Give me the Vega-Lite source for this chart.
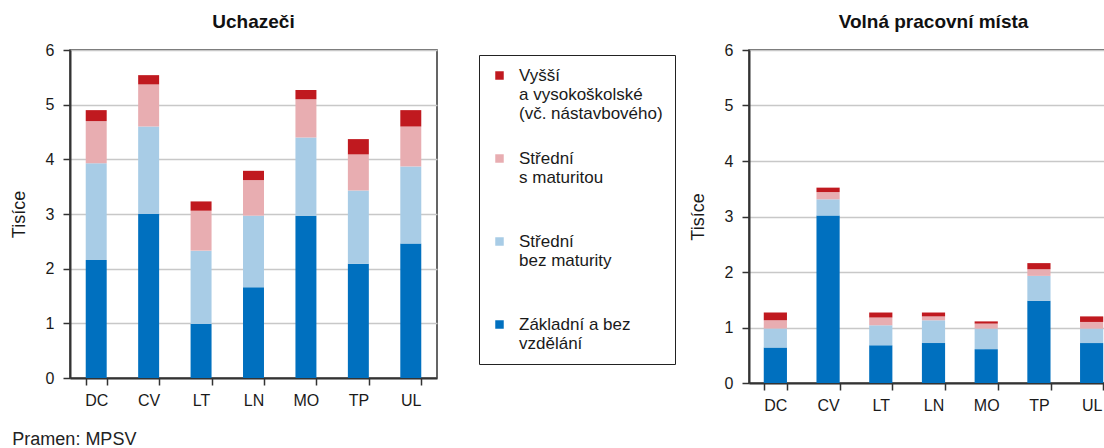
{
  "$schema": "https://vega.github.io/schema/vega-lite/v6.json",
  "padding": {"left": 9, "top": 12, "right": 0, "bottom": 4},
  "background": "white",
  "datasets": {
    "d": [
      {"graf": "Uchazeči", "okres": "DC", "vzdelani": "Základní a bez vzdělání", "poradi": 1, "tisice": 2.16},
      {"graf": "Uchazeči", "okres": "DC", "vzdelani": "Střední bez maturity", "poradi": 2, "tisice": 1.77},
      {"graf": "Uchazeči", "okres": "DC", "vzdelani": "Střední s maturitou", "poradi": 3, "tisice": 0.77},
      {"graf": "Uchazeči", "okres": "DC", "vzdelani": "Vyšší a vysokoškolské (vč. nástavbového)", "poradi": 4, "tisice": 0.20},
      {"graf": "Uchazeči", "okres": "CV", "vzdelani": "Základní a bez vzdělání", "poradi": 1, "tisice": 3.00},
      {"graf": "Uchazeči", "okres": "CV", "vzdelani": "Střední bez maturity", "poradi": 2, "tisice": 1.60},
      {"graf": "Uchazeči", "okres": "CV", "vzdelani": "Střední s maturitou", "poradi": 3, "tisice": 0.77},
      {"graf": "Uchazeči", "okres": "CV", "vzdelani": "Vyšší a vysokoškolské (vč. nástavbového)", "poradi": 4, "tisice": 0.17},
      {"graf": "Uchazeči", "okres": "LT", "vzdelani": "Základní a bez vzdělání", "poradi": 1, "tisice": 0.99},
      {"graf": "Uchazeči", "okres": "LT", "vzdelani": "Střední bez maturity", "poradi": 2, "tisice": 1.34},
      {"graf": "Uchazeči", "okres": "LT", "vzdelani": "Střední s maturitou", "poradi": 3, "tisice": 0.73},
      {"graf": "Uchazeči", "okres": "LT", "vzdelani": "Vyšší a vysokoškolské (vč. nástavbového)", "poradi": 4, "tisice": 0.17},
      {"graf": "Uchazeči", "okres": "LN", "vzdelani": "Základní a bez vzdělání", "poradi": 1, "tisice": 1.66},
      {"graf": "Uchazeči", "okres": "LN", "vzdelani": "Střední bez maturity", "poradi": 2, "tisice": 1.31},
      {"graf": "Uchazeči", "okres": "LN", "vzdelani": "Střední s maturitou", "poradi": 3, "tisice": 0.65},
      {"graf": "Uchazeči", "okres": "LN", "vzdelani": "Vyšší a vysokoškolské (vč. nástavbového)", "poradi": 4, "tisice": 0.17},
      {"graf": "Uchazeči", "okres": "MO", "vzdelani": "Základní a bez vzdělání", "poradi": 1, "tisice": 2.97},
      {"graf": "Uchazeči", "okres": "MO", "vzdelani": "Střední bez maturity", "poradi": 2, "tisice": 1.43},
      {"graf": "Uchazeči", "okres": "MO", "vzdelani": "Střední s maturitou", "poradi": 3, "tisice": 0.70},
      {"graf": "Uchazeči", "okres": "MO", "vzdelani": "Vyšší a vysokoškolské (vč. nástavbového)", "poradi": 4, "tisice": 0.17},
      {"graf": "Uchazeči", "okres": "TP", "vzdelani": "Základní a bez vzdělání", "poradi": 1, "tisice": 2.09},
      {"graf": "Uchazeči", "okres": "TP", "vzdelani": "Střední bez maturity", "poradi": 2, "tisice": 1.34},
      {"graf": "Uchazeči", "okres": "TP", "vzdelani": "Střední s maturitou", "poradi": 3, "tisice": 0.66},
      {"graf": "Uchazeči", "okres": "TP", "vzdelani": "Vyšší a vysokoškolské (vč. nástavbového)", "poradi": 4, "tisice": 0.28},
      {"graf": "Uchazeči", "okres": "UL", "vzdelani": "Základní a bez vzdělání", "poradi": 1, "tisice": 2.46},
      {"graf": "Uchazeči", "okres": "UL", "vzdelani": "Střední bez maturity", "poradi": 2, "tisice": 1.41},
      {"graf": "Uchazeči", "okres": "UL", "vzdelani": "Střední s maturitou", "poradi": 3, "tisice": 0.73},
      {"graf": "Uchazeči", "okres": "UL", "vzdelani": "Vyšší a vysokoškolské (vč. nástavbového)", "poradi": 4, "tisice": 0.30},
      {"graf": "Volná pracovní místa", "okres": "DC", "vzdelani": "Základní a bez vzdělání", "poradi": 1, "tisice": 0.64},
      {"graf": "Volná pracovní místa", "okres": "DC", "vzdelani": "Střední bez maturity", "poradi": 2, "tisice": 0.34},
      {"graf": "Volná pracovní místa", "okres": "DC", "vzdelani": "Střední s maturitou", "poradi": 3, "tisice": 0.15},
      {"graf": "Volná pracovní místa", "okres": "DC", "vzdelani": "Vyšší a vysokoškolské (vč. nástavbového)", "poradi": 4, "tisice": 0.14},
      {"graf": "Volná pracovní místa", "okres": "CV", "vzdelani": "Základní a bez vzdělání", "poradi": 1, "tisice": 3.02},
      {"graf": "Volná pracovní místa", "okres": "CV", "vzdelani": "Střední bez maturity", "poradi": 2, "tisice": 0.29},
      {"graf": "Volná pracovní místa", "okres": "CV", "vzdelani": "Střední s maturitou", "poradi": 3, "tisice": 0.13},
      {"graf": "Volná pracovní místa", "okres": "CV", "vzdelani": "Vyšší a vysokoškolské (vč. nástavbového)", "poradi": 4, "tisice": 0.08},
      {"graf": "Volná pracovní místa", "okres": "LT", "vzdelani": "Základní a bez vzdělání", "poradi": 1, "tisice": 0.68},
      {"graf": "Volná pracovní místa", "okres": "LT", "vzdelani": "Střední bez maturity", "poradi": 2, "tisice": 0.36},
      {"graf": "Volná pracovní místa", "okres": "LT", "vzdelani": "Střední s maturitou", "poradi": 3, "tisice": 0.14},
      {"graf": "Volná pracovní místa", "okres": "LT", "vzdelani": "Vyšší a vysokoškolské (vč. nástavbového)", "poradi": 4, "tisice": 0.09},
      {"graf": "Volná pracovní místa", "okres": "LN", "vzdelani": "Základní a bez vzdělání", "poradi": 1, "tisice": 0.72},
      {"graf": "Volná pracovní místa", "okres": "LN", "vzdelani": "Střední bez maturity", "poradi": 2, "tisice": 0.41},
      {"graf": "Volná pracovní místa", "okres": "LN", "vzdelani": "Střední s maturitou", "poradi": 3, "tisice": 0.07},
      {"graf": "Volná pracovní místa", "okres": "LN", "vzdelani": "Vyšší a vysokoškolské (vč. nástavbového)", "poradi": 4, "tisice": 0.07},
      {"graf": "Volná pracovní místa", "okres": "MO", "vzdelani": "Základní a bez vzdělání", "poradi": 1, "tisice": 0.61},
      {"graf": "Volná pracovní místa", "okres": "MO", "vzdelani": "Střední bez maturity", "poradi": 2, "tisice": 0.37},
      {"graf": "Volná pracovní místa", "okres": "MO", "vzdelani": "Střední s maturitou", "poradi": 3, "tisice": 0.09},
      {"graf": "Volná pracovní místa", "okres": "MO", "vzdelani": "Vyšší a vysokoškolské (vč. nástavbového)", "poradi": 4, "tisice": 0.04},
      {"graf": "Volná pracovní místa", "okres": "TP", "vzdelani": "Základní a bez vzdělání", "poradi": 1, "tisice": 1.48},
      {"graf": "Volná pracovní místa", "okres": "TP", "vzdelani": "Střední bez maturity", "poradi": 2, "tisice": 0.45},
      {"graf": "Volná pracovní místa", "okres": "TP", "vzdelani": "Střední s maturitou", "poradi": 3, "tisice": 0.12},
      {"graf": "Volná pracovní místa", "okres": "TP", "vzdelani": "Vyšší a vysokoškolské (vč. nástavbového)", "poradi": 4, "tisice": 0.11},
      {"graf": "Volná pracovní místa", "okres": "UL", "vzdelani": "Základní a bez vzdělání", "poradi": 1, "tisice": 0.72},
      {"graf": "Volná pracovní místa", "okres": "UL", "vzdelani": "Střední bez maturity", "poradi": 2, "tisice": 0.26},
      {"graf": "Volná pracovní místa", "okres": "UL", "vzdelani": "Střední s maturitou", "poradi": 3, "tisice": 0.12},
      {"graf": "Volná pracovní místa", "okres": "UL", "vzdelani": "Vyšší a vysokoškolské (vč. nástavbového)", "poradi": 4, "tisice": 0.10}
    ]
  },
  "data": {"name": "d"},
  "title": {"text": "Pramen: MPSV", "orient": "bottom", "anchor": "start", "fontSize": 18, "fontWeight": "normal", "color": "#222", "offset": 17, "dx": 3},
  "spacing": 250,
  "hconcat": [
    {
      "title": {"text": "Uchazeči"},
      "width": 367,
      "height": 328,
      "transform": [{"filter": "datum.graf == 'Uchazeči'"}],
      "mark": {"type": "bar"},
      "encoding": {
        "x": {"field": "okres", "type": "nominal", "sort": ["DC", "CV", "LT", "LN", "MO", "TP", "UL"], "scale": {"paddingInner": 0.6, "paddingOuter": 0.3}, "axis": {"title": null}},
        "y": {"field": "tisice", "type": "quantitative", "stack": "zero", "scale": {"domain": [0, 6], "nice": false}, "axis": {"title": "Tisíce", "values": [0, 1, 2, 3, 4, 5, 6]}},
        "color": {
          "field": "vzdelani", "type": "nominal",
          "scale": {"domain": ["Vyšší a vysokoškolské (vč. nástavbového)", "Střední s maturitou", "Střední bez maturity", "Základní a bez vzdělání"], "range": ["#c0191f", "#e8adb1", "#a8cce6", "#0070bf"]},
          "legend": {
            "orient": "none", "legendX": 409, "legendY": 5, "title": null,
            "labelExpr": "datum.label == 'Vyšší a vysokoškolské (vč. nástavbového)' ? ['Vyšší', 'a vysokoškolské', '(vč. nástavbového)'] : datum.label == 'Střední s maturitou' ? ['Střední', 's maturitou'] : datum.label == 'Střední bez maturity' ? ['Střední', 'bez maturity'] : ['Základní a bez', 'vzdělání']"
          }
        },
        "order": {"field": "poradi", "type": "quantitative"}
      }
    },
    {
      "title": {"text": "Volná pracovní místa"},
      "width": 369,
      "height": 333,
      "transform": [{"filter": "datum.graf == 'Volná pracovní místa'"}],
      "mark": {"type": "bar"},
      "encoding": {
        "x": {"field": "okres", "type": "nominal", "sort": ["DC", "CV", "LT", "LN", "MO", "TP", "UL"], "scale": {"paddingInner": 0.56, "paddingOuter": 0.28}, "axis": {"title": null}},
        "y": {"field": "tisice", "type": "quantitative", "stack": "zero", "scale": {"domain": [0, 6], "nice": false}, "axis": {"title": "Tisíce", "values": [0, 1, 2, 3, 4, 5, 6]}},
        "color": {"field": "vzdelani", "type": "nominal"},
        "order": {"field": "poradi", "type": "quantitative"}
      }
    }
  ],
  "config": {
    "font": "Liberation Sans",
    "view": {"stroke": "#333", "strokeWidth": 1.5},
    "axis": {"labelFont": "Liberation Sans", "labelFontSize": 16, "labelColor": "#1a1a1a", "domainColor": "#333", "domainWidth": 2, "tickColor": "#333", "tickWidth": 1.5, "tickSize": 7, "titleFont": "Liberation Sans", "titleFontSize": 18, "titleFontWeight": "normal", "titleColor": "#1a1a1a"},
    "axisX": {"labelAngle": 0, "tickBand": "extent", "labelPadding": 7, "grid": false},
    "axisY": {"grid": true, "gridColor": "#c8c8c8", "gridWidth": 1.5, "labelPadding": 9, "titlePadding": 17},
    "title": {"font": "Liberation Sans", "fontSize": 19, "fontWeight": "bold", "color": "#111", "offset": 10},
    "legend": {"symbolType": "square", "symbolSize": 72, "symbolStrokeWidth": 0, "labelFont": "Liberation Sans", "labelFontSize": 17, "labelColor": "#1a1a1a", "labelLimit": 400, "labelOffset": 11, "strokeColor": "#222", "fillColor": "white", "padding": 12, "rowPadding": 27, "columns": 1, "gridAlign": "all"}
  }
}
